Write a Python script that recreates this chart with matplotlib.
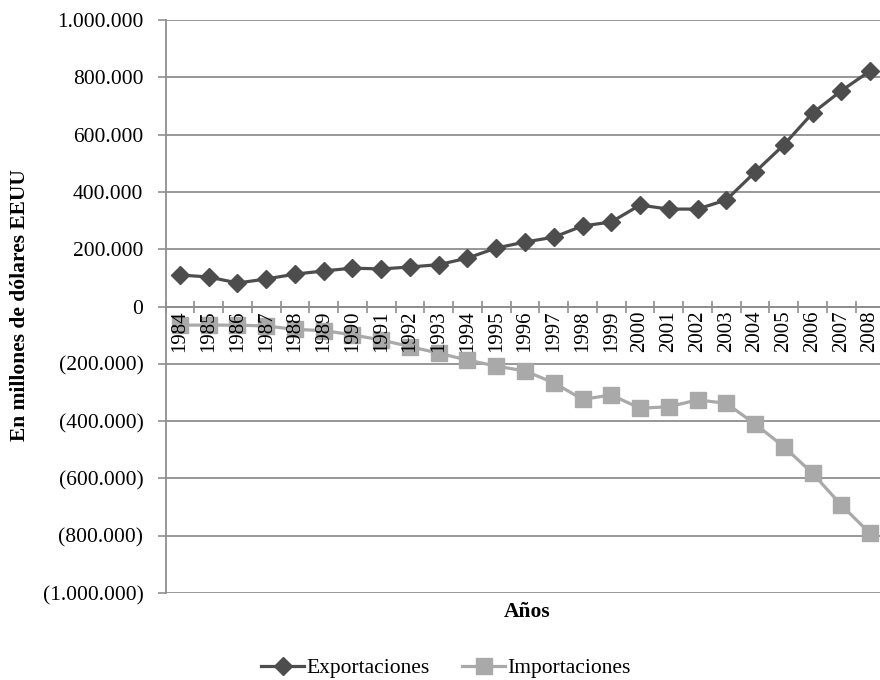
import matplotlib

matplotlib.use("Agg")
import matplotlib.pyplot as plt
from matplotlib.lines import Line2D

plt.rcParams["font.family"] = ["Liberation Serif", "DejaVu Serif"]

YEARS = [str(y) for y in range(1984, 2009)]
EXPORTS = [110, 103, 82, 96, 113, 124, 134, 131, 138, 146, 169, 204, 225, 242,
           281, 295, 354, 340, 340, 372, 469, 564, 675, 753, 822]          # thousand millions
IMPORTS = [-65, -65, -65, -68, -80, -84, -99, -117, -140, -163, -187, -208, -225,
           -266, -324, -309, -355, -350, -326, -338, -410, -489, -582, -693, -792]
Y_TICKS = [1000, 800, 600, 400, 200, 0, -200, -400, -600, -800, -1000]
Y_LABELS = ["1.000.000", "800.000", "600.000", "400.000", "200.000", "0",
            "(200.000)", "(400.000)", "(600.000)", "(800.000)", "(1.000.000)"]

DARK = "#4d4d4d"
LIGHT = "#a9a9a9"
GRID = "#8f8f8f"

fig = plt.figure(figsize=(8.8, 6.8), dpi=100)
# axes deliberately runs a little past the right edge (as in the original crop)
ax = fig.add_axes([165.6 / 880, 1 - 593 / 680, 718.8 / 880, 573 / 680])

x = list(range(len(YEARS)))
ax.plot(x, [v * 1000 for v in EXPORTS], color=DARK, lw=2.3, marker="D", ms=9,
        zorder=4, clip_on=False)
ax.plot(x, [v * 1000 for v in IMPORTS], color=LIGHT, lw=2.3, marker="s", ms=12,
        zorder=3, clip_on=False)

ax.set_xlim(-0.5, len(YEARS) - 0.5)
ax.set_ylim(-1_000_000, 1_000_000)
ax.set_yticks([v * 1000 for v in Y_TICKS])
ax.set_yticklabels(Y_LABELS, fontsize=15.5)
ax.yaxis.grid(True, color=GRID, lw=1.3)
ax.set_axisbelow(True)

for side in ("top", "right"):
    ax.spines[side].set_visible(False)
ax.spines["left"].set_color(GRID)
ax.spines["left"].set_linewidth(1.3)
ax.spines["bottom"].set_position(("data", 0))
ax.spines["bottom"].set_color(GRID)
ax.spines["bottom"].set_linewidth(1.3)

ax.set_xticks(x)
ax.set_xticklabels(YEARS, rotation=90, fontsize=15, va="top")
ax.set_xticks([i - 0.5 for i in range(len(YEARS) + 1)], minor=True)
ax.tick_params(axis="x", which="major", length=0, pad=3)
ax.tick_params(axis="x", which="minor", length=8, direction="inout", color=GRID,
               width=1.2)
ax.tick_params(axis="y", length=6, color=GRID, width=1.2, pad=10)
# year labels sit on top of the import markers, as in the original
ax.xaxis.set_zorder(5)

fig.text(20 / 880, 1 - 305 / 680, "En millones de dólares EEUU", rotation=90,
         fontsize=15.5, fontweight="bold", ha="center", va="center")
fig.text(527 / 880, 1 - 612 / 680, "Años", fontsize=15.5, fontweight="bold",
         ha="center", va="center")

handles = [Line2D([], [], color=DARK, lw=2.3, marker="D", ms=9),
           Line2D([], [], color=LIGHT, lw=2.3, marker="s", ms=12)]
fig.legend(handles, ["Exportaciones", "Importaciones"], loc="center",
           bbox_to_anchor=(446 / 880, 1 - 668 / 680), ncol=2, frameon=False,
           fontsize=15.5, handlelength=2.0, handletextpad=0.1, columnspacing=1.5)

fig.savefig("out.png", dpi=100)
